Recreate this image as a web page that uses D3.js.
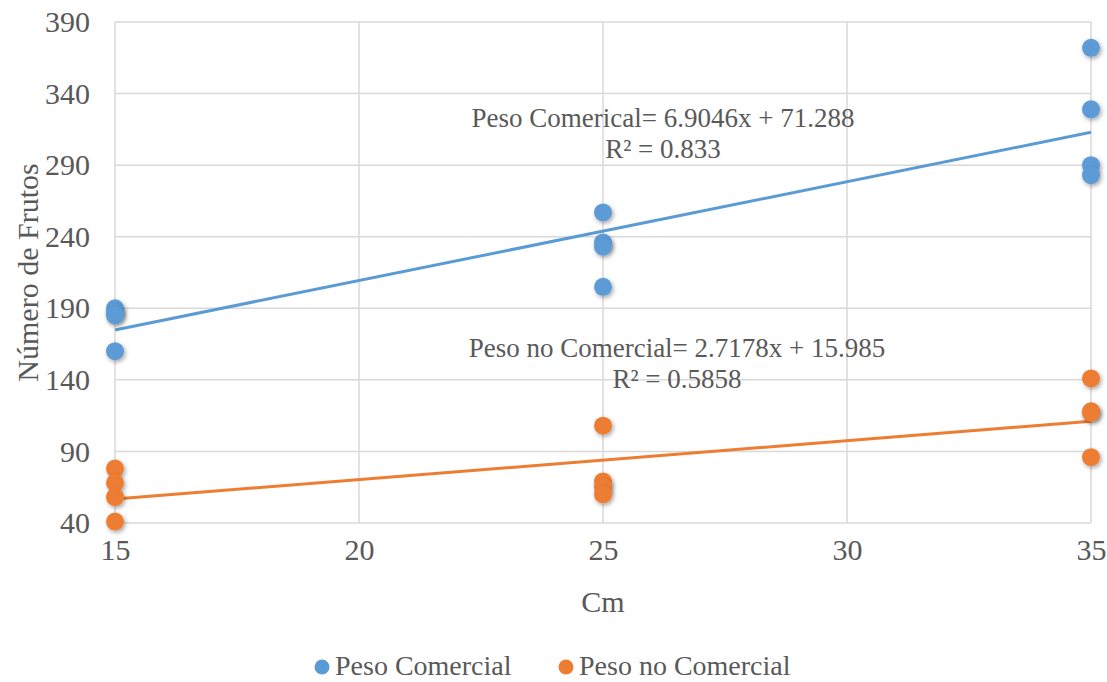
<!DOCTYPE html>
<html>
<head>
<meta charset="utf-8">
<script src="https://cdn.jsdelivr.net/npm/d3@7"></script>
<style>
  body { margin: 0; background: #fff; }
  text { font-family: "Liberation Serif", "Times New Roman", serif; fill: #595959; }
</style>
</head>
<body>
<svg id="chart" width="1107" height="682"></svg>
<script>
// distance categories (cm)
var cm = [15, 15, 15, 15, 25, 25, 25, 25, 35, 35, 35, 35];
var pesoComercial = [190, 187, 185, 160, 257, 236, 233, 205, 372, 329, 290, 283];
var pesoNoComercial = [78, 68, 58, 41, 108, 69, 65, 60, 141, 118, 117, 86];
var xTicks = [15, 20, 25, 30, 35];
var yTicks = [40, 90, 140, 190, 240, 290, 340, 390];
// trendline coefficients as shown on the chart
var trendComercial = { slope: 6.9046, intercept: 71.288, r2: '0.833' };
var trendNoComercial = { slope: 2.7178, intercept: 15.985, r2: '0.5858' };

var series = [
  { name: 'Peso Comercial', label: 'Peso Comerical', values: pesoComercial, trend: trendComercial, color: '#5B9BD5' },
  { name: 'Peso no Comercial', label: 'Peso no Comercial', values: pesoNoComercial, trend: trendNoComercial, color: '#ED7D31' }
];

var margin = { left: 115, right: 16, top: 22, bottom: 159 };
var svg = d3.select('#chart');
var W = +svg.attr('width'), H = +svg.attr('height');
var w = W - margin.left - margin.right, h = H - margin.top - margin.bottom;

var x = d3.scaleLinear().domain([15, 35]).range([0, w]);
var y = d3.scaleLinear().domain([40, 390]).range([h, 0]);

var defs = svg.append('defs');
var f = defs.append('filter').attr('id', 'shadow').attr('x', '-50%').attr('y', '-50%').attr('width', '200%').attr('height', '200%');
f.append('feDropShadow').attr('dx', 1.5).attr('dy', 2).attr('stdDeviation', 2).attr('flood-color', '#000').attr('flood-opacity', 0.35);

var g = svg.append('g').attr('transform', 'translate(' + margin.left + ',' + margin.top + ')');

// grid
g.append('g').selectAll('line').data(yTicks).enter().append('line')
  .attr('x1', 0).attr('x2', w).attr('y1', function(d) { return y(d); }).attr('y2', function(d) { return y(d); })
  .attr('stroke', '#d9d9d9').attr('stroke-width', 1.5);
g.append('g').selectAll('line').data(xTicks).enter().append('line')
  .attr('y1', 0).attr('y2', h).attr('x1', function(d) { return x(d); }).attr('x2', function(d) { return x(d); })
  .attr('stroke', '#d9d9d9').attr('stroke-width', 1.5);

// axes (labels only, lines come from grid)
var yAxis = g.append('g').call(d3.axisLeft(y).tickValues(yTicks).tickSize(0).tickPadding(25));
var xAxis = g.append('g').attr('transform', 'translate(0,' + h + ')')
  .call(d3.axisBottom(x).tickValues(xTicks).tickSize(0).tickPadding(16));
[yAxis, xAxis].forEach(function(a) {
  a.select('.domain').remove();
  a.selectAll('text').attr('font-family', '"Liberation Serif", serif').attr('font-size', 30).attr('fill', '#595959');
});

// trendlines
series.forEach(function(s) {
  g.append('line')
    .attr('x1', x(15)).attr('x2', x(35))
    .attr('y1', y(s.trend.slope * 15 + s.trend.intercept))
    .attr('y2', y(s.trend.slope * 35 + s.trend.intercept))
    .attr('stroke', s.color).attr('stroke-width', 3);
});

// points
series.forEach(function(s) {
  g.append('g').selectAll('circle').data(s.values).enter().append('circle')
    .attr('cx', function(d, i) { return x(cm[i]); })
    .attr('cy', function(d) { return y(d); })
    .attr('r', 9)
    .attr('fill', s.color)
    .attr('filter', 'url(#shadow)');
});

// equation labels
var eqPos = [{ cx: 548, base: 105 }, { cx: 562, base: 335 }];
series.forEach(function(s, i) {
  var t = g.append('text').attr('text-anchor', 'middle').attr('font-size', 27);
  t.append('tspan').attr('x', eqPos[i].cx).attr('y', eqPos[i].base)
    .text(s.label + '= ' + s.trend.slope + 'x + ' + s.trend.intercept.toFixed(3));
  t.append('tspan').attr('x', eqPos[i].cx).attr('y', eqPos[i].base + 31)
    .text('R² = ' + s.trend.r2);
});

// axis titles
svg.append('text').attr('x', margin.left + w / 2).attr('y', 612).attr('text-anchor', 'middle')
  .attr('font-size', 30).text('Cm');
svg.append('text').attr('transform', 'translate(38,' + (margin.top + h / 2) + ') rotate(-90)')
  .attr('text-anchor', 'middle').attr('font-size', 30).text('Número de Frutos');

// legend
var legend = svg.append('g').attr('transform', 'translate(322,667)');
var lx = [0, 244];
series.forEach(function(s, i) {
  legend.append('circle').attr('cx', lx[i]).attr('cy', 0).attr('r', 7.5).attr('fill', s.color);
  legend.append('text').attr('x', lx[i] + 13).attr('y', 8).attr('font-size', 28).text(s.name);
});
</script>
</body>
</html>
